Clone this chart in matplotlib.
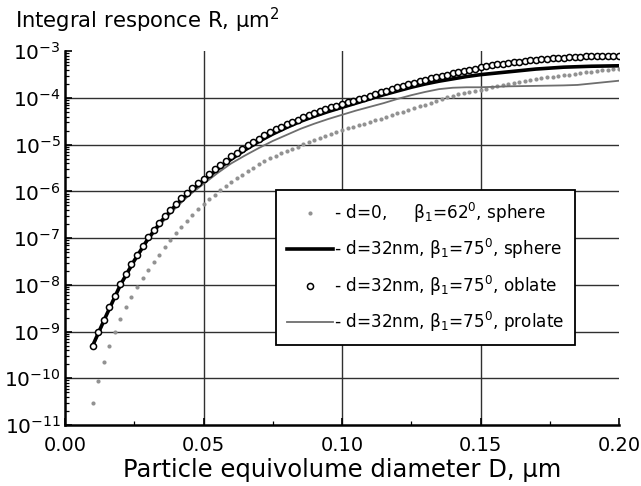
import matplotlib
matplotlib.use("Agg")
import matplotlib.pyplot as plt
import numpy as np
from matplotlib.ticker import FixedLocator, MultipleLocator, LogLocator, NullFormatter, FuncFormatter

plt.rcParams['font.family'] = ['DejaVu Sans']
plt.rcParams['mathtext.fontset'] = 'dejavusans'

# ---- data (diameter in um, log10 of integral response in um^2) ----
D_marker = [0.010, 0.012, 0.014, 0.016, 0.018, 0.020, 0.022, 0.024, 0.026, 0.028,
            0.030, 0.032, 0.034, 0.036, 0.038, 0.040, 0.042, 0.044, 0.046, 0.048,
            0.050, 0.052, 0.054, 0.056, 0.058, 0.060, 0.062, 0.064, 0.066, 0.068,
            0.070, 0.072, 0.074, 0.076, 0.078, 0.080, 0.082, 0.084, 0.086, 0.088,
            0.090, 0.092, 0.094, 0.096, 0.098, 0.100, 0.102, 0.104, 0.106, 0.108,
            0.110, 0.112, 0.114, 0.116, 0.118, 0.120, 0.122, 0.124, 0.126, 0.128,
            0.130, 0.132, 0.134, 0.136, 0.138, 0.140, 0.142, 0.144, 0.146, 0.148,
            0.150, 0.152, 0.154, 0.156, 0.158, 0.160, 0.162, 0.164, 0.166, 0.168,
            0.170, 0.172, 0.174, 0.176, 0.178, 0.180, 0.182, 0.184, 0.186, 0.188,
            0.190, 0.192, 0.194, 0.196, 0.198, 0.200]

logR_d0_sphere = [-10.52, -10.05, -9.65, -9.30, -9.00, -8.73, -8.48, -8.25, -8.05, -7.85,
                  -7.68, -7.51, -7.36, -7.20, -7.05, -6.90, -6.76, -6.63, -6.50, -6.38,
                  -6.27, -6.17, -6.07, -5.97, -5.88, -5.79, -5.72, -5.64, -5.56, -5.49,
                  -5.42, -5.35, -5.29, -5.24, -5.18, -5.14, -5.09, -5.04, -4.99, -4.94,
                  -4.89, -4.85, -4.81, -4.77, -4.73, -4.69, -4.65, -4.62, -4.58, -4.55,
                  -4.51, -4.47, -4.44, -4.40, -4.37, -4.33, -4.29, -4.26, -4.22, -4.18,
                  -4.14, -4.10, -4.06, -4.02, -3.98, -3.95, -3.92, -3.90, -3.87, -3.85,
                  -3.82, -3.80, -3.77, -3.75, -3.72, -3.70, -3.68, -3.66, -3.64, -3.62,
                  -3.60, -3.58, -3.56, -3.55, -3.53, -3.51, -3.50, -3.48, -3.47, -3.45,
                  -3.44, -3.43, -3.41, -3.40, -3.38, -3.37]

logR_d32_oblate = [-9.30, -9.00, -8.76, -8.48, -8.23, -7.98, -7.76, -7.56, -7.36, -7.16,
                   -6.98, -6.82, -6.67, -6.53, -6.39, -6.26, -6.15, -6.04, -5.93, -5.83,
                   -5.73, -5.63, -5.53, -5.44, -5.34, -5.25, -5.17, -5.09, -5.01, -4.94,
                   -4.87, -4.80, -4.73, -4.67, -4.62, -4.56, -4.51, -4.46, -4.41, -4.36,
                   -4.32, -4.28, -4.24, -4.20, -4.17, -4.13, -4.09, -4.06, -4.02, -3.99,
                   -3.95, -3.91, -3.88, -3.84, -3.81, -3.77, -3.74, -3.71, -3.67, -3.64,
                   -3.61, -3.58, -3.55, -3.52, -3.50, -3.47, -3.44, -3.42, -3.39, -3.37,
                   -3.34, -3.32, -3.30, -3.28, -3.27, -3.25, -3.23, -3.22, -3.20, -3.19,
                   -3.18, -3.17, -3.16, -3.15, -3.14, -3.14, -3.13, -3.12, -3.12, -3.11,
                   -3.11, -3.11, -3.10, -3.10, -3.10, -3.10]

D_line = [0.010, 0.015, 0.020, 0.025, 0.030, 0.035, 0.040, 0.045, 0.050, 0.055,
          0.060, 0.065, 0.070, 0.075, 0.080, 0.085, 0.090, 0.095, 0.100, 0.105,
          0.110, 0.115, 0.120, 0.125, 0.130, 0.135, 0.140, 0.145, 0.150, 0.155,
          0.160, 0.165, 0.170, 0.175, 0.180, 0.185, 0.190, 0.195, 0.200]

logR_d32_sphere = [-9.30, -8.64, -8.00, -7.48, -7.01, -6.62, -6.29, -6.01, -5.77, -5.53,
                   -5.31, -5.11, -4.93, -4.77, -4.63, -4.50, -4.39, -4.29, -4.20, -4.11,
                   -4.02, -3.93, -3.85, -3.77, -3.70, -3.64, -3.59, -3.54, -3.50, -3.47,
                   -3.44, -3.41, -3.38, -3.36, -3.34, -3.33, -3.32, -3.315, -3.31]

logR_d32_prolate = [-9.32, -8.66, -8.03, -7.51, -7.05, -6.67, -6.35, -6.07, -5.84, -5.61,
                    -5.40, -5.23, -5.07, -4.92, -4.79, -4.66, -4.55, -4.45, -4.36, -4.27,
                    -4.19, -4.11, -4.02, -3.94, -3.87, -3.81, -3.78, -3.77, -3.77, -3.76,
                    -3.75, -3.745, -3.74, -3.735, -3.73, -3.72, -3.69, -3.66, -3.63]

labels = [r"- d=0,     β$_1$=62$^0$, sphere",
          r"- d=32nm, β$_1$=75$^0$, sphere",
          r"- d=32nm, β$_1$=75$^0$, oblate",
          r"- d=32nm, β$_1$=75$^0$, prolate"]

x_ticks = [0.00, 0.05, 0.10, 0.15, 0.20]
x_ticklabels = ["0.00", "0.05", "0.10", "0.15", "0.20"]
y_exponents = [-11, -10, -9, -8, -7, -6, -5, -4, -3]

# ---- figure ----
fig = plt.figure(figsize=(6.41, 4.86), dpi=100)
ax = fig.add_axes([65/641, 1 - 425/486, (619 - 65)/641, (425 - 51.3)/486])

R = lambda v: np.power(10.0, np.asarray(v))

h0, = ax.plot(D_marker, R(logR_d0_sphere), linestyle='none', marker='o',
              markersize=3.0, markerfacecolor='#929292', markeredgecolor='#929292',
              markeredgewidth=0, zorder=3)
h3, = ax.plot(D_line, R(logR_d32_prolate), color='#6e6e6e', lw=1.3, zorder=4)
h1, = ax.plot(D_line, R(logR_d32_sphere), color='black', lw=2.6, zorder=5)
h2, = ax.plot(D_marker, R(logR_d32_oblate), linestyle='none', marker='o',
              markersize=4.4, markerfacecolor='white', markeredgecolor='black',
              markeredgewidth=1.1, zorder=6)

ax.set_yscale('log')
ax.set_xlim(0.0, 0.20)
ax.set_ylim(1e-11, 1e-3)

ax.xaxis.set_major_locator(FixedLocator(x_ticks))
ax.set_xticklabels(x_ticklabels)
ax.xaxis.set_minor_locator(MultipleLocator(0.025))
ax.yaxis.set_major_locator(FixedLocator([10.0**e for e in y_exponents]))
ax.yaxis.set_major_formatter(FuncFormatter(lambda v, p: r"$10^{%d}$" % int(round(np.log10(v)))))
ax.yaxis.set_minor_locator(LogLocator(base=10, subs=np.arange(2, 10), numticks=100))
ax.yaxis.set_minor_formatter(NullFormatter())

ax.tick_params(axis='both', which='both', direction='in', colors='black')
ax.tick_params(axis='x', which='major', labelsize=14, pad=8)
ax.tick_params(axis='y', which='major', labelsize=14.5, pad=3)
ax.tick_params(axis='both', which='major', length=5, width=1.2)
ax.tick_params(axis='both', which='minor', length=3, width=0.9)

ax.grid(True, which='major', color='#303030', lw=1.0)
for t, v in zip(ax.xaxis.get_major_ticks(), x_ticks):
    if v <= 0.0 or v >= 0.20:
        t.gridline.set_visible(False)
for t, e in zip(ax.yaxis.get_major_ticks(), y_exponents):
    if e in (-11, -3):
        t.gridline.set_visible(False)
ax.set_axisbelow(True)

for s in ('top', 'right'):
    ax.spines[s].set_visible(False)
for s in ('left', 'bottom'):
    ax.spines[s].set_linewidth(1.8)
    ax.spines[s].set_color('black')

ax.set_xlabel("Particle equivolume diameter D, μm", fontsize=17.5, labelpad=2)
fig.text(15/641, 1 - 28.3/486, r"Integral responce R, μm$^2$", fontsize=15.2,
         ha='left', va='baseline')

leg = ax.legend([h0, h1, h2, h3], labels, loc='upper left',
                bbox_to_anchor=((276 - 65)/554, (425 - 190)/373.7),
                borderaxespad=0, fontsize=12.2, handlelength=2.7, handletextpad=0.05,
                labelspacing=0.72, borderpad=0.65, fancybox=False, framealpha=1,
                edgecolor='black', markerscale=1.0)
leg.get_frame().set_linewidth(1.3)
leg.set_zorder(10)

fig.savefig("out.png", dpi=100)
